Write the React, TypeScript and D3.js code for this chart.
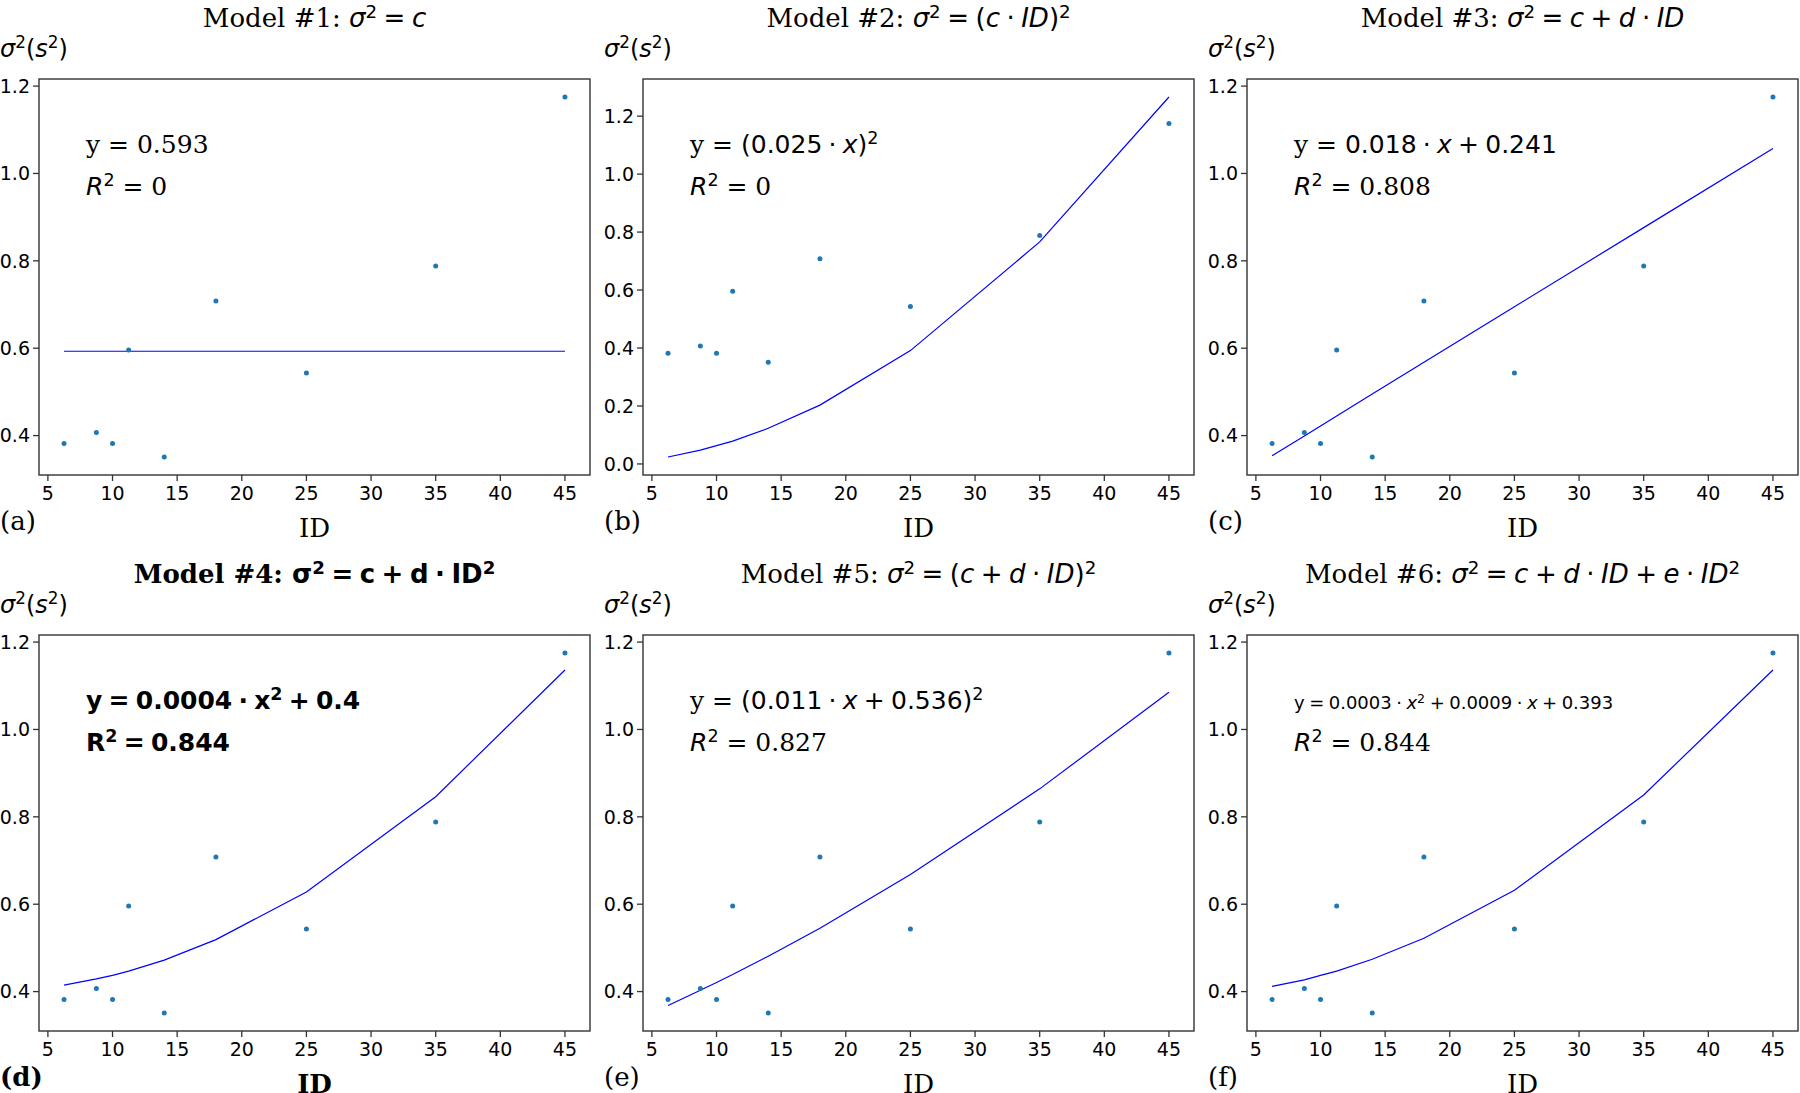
import React from "react";
import * as d3 from "d3";

// ---------- data ----------
const ID_VALUES = [6.25, 8.75, 10, 11.25, 14, 18, 25, 35, 45];
const VARIANCE = [0.382, 0.407, 0.382, 0.596, 0.351, 0.708, 0.543, 0.788, 1.175];

const FIT_M1 = [0.593, 0.593, 0.593, 0.593, 0.593, 0.593, 0.593, 0.593, 0.593];
const FIT_M2 = [0.024, 0.048, 0.063, 0.079, 0.123, 0.203, 0.391, 0.766, 1.266];
const FIT_M3 = [0.354, 0.399, 0.422, 0.445, 0.495, 0.568, 0.695, 0.876, 1.057];
const FIT_M4 = [0.415, 0.429, 0.437, 0.447, 0.472, 0.519, 0.628, 0.846, 1.136];
const FIT_M5 = [0.368, 0.403, 0.421, 0.439, 0.481, 0.545, 0.668, 0.864, 1.085];
const FIT_M6 = [0.412, 0.427, 0.437, 0.447, 0.474, 0.522, 0.632, 0.85, 1.136];

const X_TICKS = [5, 10, 15, 20, 25, 30, 35, 40, 45];
const Y_TICKS_MAIN = [0.4, 0.6, 0.8, 1.0, 1.2];
const Y_TICKS_M2 = [0.0, 0.2, 0.4, 0.6, 0.8, 1.0, 1.2];

const PANEL_LABELS = ["(a)", "(b)", "(c)", "(d)", "(e)", "(f)"];

// ---------- text helpers ----------
type Seg = { t: string; f?: "serif" | "sans"; i?: boolean; b?: boolean; sup?: boolean };
const SERIF = "'DejaVu Serif', serif";
const SANS = "'DejaVu Sans', sans-serif";
const SP = "\u2005"; // math binary-operator spacing

const r = (t: string): Seg => ({ t, f: "serif" });
const s = (t: string): Seg => ({ t: t.replace(/ /g, SP), f: "sans" });
const si = (t: string): Seg => ({ t, f: "sans", i: true });
const sup = (t: string, b = false): Seg => ({ t, f: "sans", sup: true, b });
const bs = (t: string): Seg => ({ t: t.replace(/ /g, SP), f: "sans", b: true });
const br = (t: string): Seg => ({ t, f: "serif", b: true });

function Rich({ x, y, size, segs, anchor = "start" }: { x: number; y: number; size: number; segs: Seg[]; anchor?: string }) {
  let shift = 0;
  const kids = segs.map((g, k) => {
    const target = g.sup ? -size * 0.36 : 0;
    const dy = target - shift;
    shift = target;
    return (
      <tspan
        key={k}
        dy={dy}
        fontFamily={g.f === "serif" ? SERIF : SANS}
        fontStyle={g.i ? "italic" : "normal"}
        fontWeight={g.b ? "bold" : "normal"}
        fontSize={g.sup ? size * 0.7 : size}
      >
        {g.t}
      </tspan>
    );
  });
  return (
    <text x={x} y={y} textAnchor={anchor as any} style={{ whiteSpace: "pre" }} fill="#000">
      {kids}
    </text>
  );
}

// ---------- panel configs ----------
const TITLES: Seg[][] = [
  [r("Model #1: "), si("σ"), sup("2"), s(" = "), si("c")],
  [r("Model #2: "), si("σ"), sup("2"), s(" = ("), si("c"), s(" · "), si("ID"), s(")"), sup("2")],
  [r("Model #3: "), si("σ"), sup("2"), s(" = "), si("c"), s(" + "), si("d"), s(" · "), si("ID")],
  [br("Model #4: "), bs("σ"), sup("2", true), bs(" = c + d · ID"), sup("2", true)],
  [r("Model #5: "), si("σ"), sup("2"), s(" = ("), si("c"), s(" + "), si("d"), s(" · "), si("ID"), s(")"), sup("2")],
  [r("Model #6: "), si("σ"), sup("2"), s(" = "), si("c"), s(" + "), si("d"), s(" · "), si("ID"), s(" + "), si("e"), s(" · "), si("ID"), sup("2")],
];

const EQ_LINES: { segs: Seg[]; size: number }[] = [
  { segs: [r("y = 0.593")], size: 25 },
  { segs: [r("y = "), s("(0.025 · "), si("x"), s(")"), sup("2")], size: 25 },
  { segs: [r("y = "), s("0.018 · "), si("x"), s(" + 0.241")], size: 25 },
  { segs: [bs("y = 0.0004 · x"), sup("2", true), bs(" + 0.4")], size: 25 },
  { segs: [r("y = "), s("(0.011 · "), si("x"), s(" + 0.536)"), sup("2")], size: 25 },
  { segs: [s("y = 0.0003 · "), si("x"), sup("2"), s(" + 0.0009 · "), si("x"), s(" + 0.393")], size: 18 },
];

const R2_LINES: Seg[][] = [
  [si("R"), sup("2"), r(" = 0")],
  [si("R"), sup("2"), r(" = 0")],
  [si("R"), sup("2"), r(" = 0.808")],
  [bs("R"), sup("2", true), bs(" = 0.844")],
  [si("R"), sup("2"), r(" = 0.827")],
  [si("R"), sup("2"), r(" = 0.844")],
];

const FITS = [FIT_M1, FIT_M2, FIT_M3, FIT_M4, FIT_M5, FIT_M6];

// ---------- layout ----------
const COLS = [39, 643, 1247];
const ROWS = [79, 635];
const PW = 551;
const PH = 396;

function Panel({ idx }: { idx: number }) {
  const left = COLS[idx % 3];
  const top = ROWS[Math.floor(idx / 3)];
  const right = left + PW;
  const bottom = top + PH;
  const cx = (left + right) / 2;
  const bold = idx === 3;
  const fit = FITS[idx];
  const yTicks = idx === 1 ? Y_TICKS_M2 : Y_TICKS_MAIN;

  const [x0, x1] = d3.extent(ID_VALUES) as [number, number];
  const xm = (x1 - x0) * 0.05;
  const x = d3.scaleLinear().domain([x0 - xm, x1 + xm]).range([left, right]);

  const allY = VARIANCE.concat(fit);
  const [y0, y1] = d3.extent(allY) as [number, number];
  const ym = (y1 - y0) * 0.05;
  const y = d3.scaleLinear().domain([y0 - ym, y1 + ym]).range([bottom, top]);

  const line = d3
    .line<number>()
    .x((_, k) => x(ID_VALUES[k]))
    .y((v) => y(v));

  const axisColor = "#333";

  return (
    <g>
      <Rich x={cx} y={top - 52} size={26} segs={TITLES[idx]} anchor="middle" />
      <Rich x={left - 39} y={top - 22} size={24} segs={[si("σ"), sup("2"), s("("), si("s"), sup("2"), s(")")]} />

      <path d={line(fit) || ""} fill="none" stroke="#0000ff" strokeWidth={1.2} />
      {ID_VALUES.map((v, k) => (
        <circle key={k} cx={x(v)} cy={y(VARIANCE[k])} r={2.5} fill="#1f77b4" />
      ))}

      <rect x={left} y={top} width={PW} height={PH} fill="none" stroke={axisColor} strokeWidth={1.4} />

      {yTicks.map((t) => (
        <g key={"y" + t}>
          <line x1={left - 6} x2={left} y1={y(t)} y2={y(t)} stroke={axisColor} strokeWidth={1.3} />
          <text x={left - 9} y={y(t)} dy="0.36em" textAnchor="end" fontFamily={SANS} fontSize={19} fill="#000">
            {t.toFixed(1)}
          </text>
        </g>
      ))}
      {X_TICKS.map((t) => (
        <g key={"x" + t}>
          <line x1={x(t)} x2={x(t)} y1={bottom} y2={bottom + 6} stroke={axisColor} strokeWidth={1.3} />
          <text x={x(t)} y={bottom + 25} textAnchor="middle" fontFamily={SANS} fontSize={19} fill="#000">
            {t}
          </text>
        </g>
      ))}

      <text x={cx} y={bottom + 62} textAnchor="middle" fontFamily={SERIF} fontSize={26} fontWeight={bold ? "bold" : "normal"} fill="#000">
        ID
      </text>
      <text x={left - 39} y={bottom + 55} fontFamily={SERIF} fontSize={26} fontWeight={bold ? "bold" : "normal"} fill="#000">
        {PANEL_LABELS[idx]}
      </text>

      <Rich x={left + 47} y={top + 74} size={EQ_LINES[idx].size} segs={EQ_LINES[idx].segs} />
      <Rich x={left + 47} y={top + 116} size={25} segs={R2_LINES[idx]} />
    </g>
  );
}

export default function App() {
  return (
    <svg
      width={1800}
      height={1093}
      viewBox="0 0 1800 1093"
      style={{ position: "absolute", left: 0, top: 0, background: "#fff" }}
    >
      <rect x={0} y={0} width={1800} height={1093} fill="#fff" />
      {[0, 1, 2, 3, 4, 5].map((k) => (
        <Panel key={k} idx={k} />
      ))}
    </svg>
  );
}
